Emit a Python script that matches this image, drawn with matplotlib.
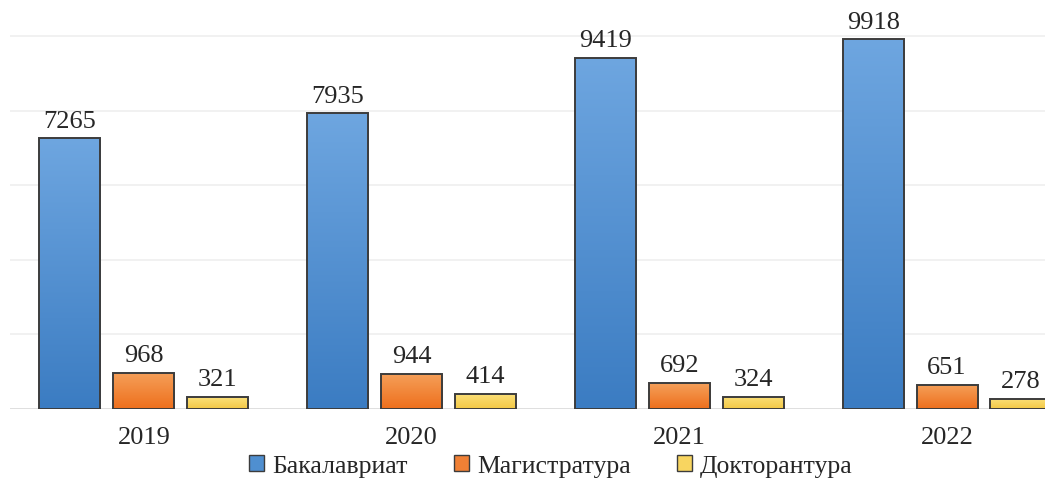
import matplotlib.pyplot as plt
import matplotlib.colors as mcolors
import numpy as np

years = ['2019', '2020', '2021', '2022']
series = ['Бакалавриат', 'Магистратура', 'Докторантура']
bachelor = [7265, 7935, 9419, 9918]
master = [968, 944, 692, 651]
doctor = [321, 414, 324, 278]

values = [bachelor, master, doctor]
# (top colour, bottom colour) for the vertical gradient of each series
grad = [('#6ea6e0', '#3b7cc2'), ('#f5a05a', '#ee6f1c'), ('#fbe07a', '#f3c845')]
legend_col = ['#4f8fd0', '#f08035', '#f8d560']

plt.rcParams['font.family'] = ['Liberation Serif', 'DejaVu Serif']

fig = plt.figure(figsize=(10.45, 4.85), dpi=100)
# axes runs off the right edge, as in the cropped original
ax = fig.add_axes([10/1045, 75/485, 1035/1045, 410/485])

width = 0.228
step = 0.276
x = np.arange(len(years))

ax.set_xlim(-0.5, (1045 - 143) / 268)
ax.set_ylim(0, 11000)

for yv in range(2000, 11000, 2000):
    ax.axhline(yv, color='#efefef', lw=1.2, zorder=0)
ax.axhline(0, color='#d9d9d9', lw=1.2, zorder=1)

gradient = np.linspace(0, 1, 256).reshape(-1, 1)
for i, vals in enumerate(values):
    cmap = mcolors.LinearSegmentedColormap.from_list('g%d' % i, [grad[i][1], grad[i][0]])
    offs = (i - 1) * step
    bars = ax.bar(x + offs, vals, width, facecolor='none', edgecolor='#3c3c3c',
                  linewidth=1.4, zorder=3)
    for b, v in zip(bars, vals):
        bx, bw = b.get_x(), b.get_width()
        im = ax.imshow(gradient, cmap=cmap, aspect='auto', origin='lower',
                       extent=[bx, bx + bw, 0, v], zorder=2)
        im.set_clip_path(b)
        ax.text(bx + bw / 2, v + 180, str(v), ha='center', va='bottom',
                fontsize=19, color='#262626')

ax.set_xticks(x)
ax.set_xticklabels(years, fontsize=19, color='#262626')
ax.tick_params(axis='x', length=0, pad=12)
ax.set_yticks([])
for s in ax.spines.values():
    s.set_visible(False)

handles = [plt.Rectangle((0, 0), 1, 1, fc=legend_col[i], ec='#3c3c3c', lw=1)
           for i in range(3)]
fig.legend(handles, series, loc='center', bbox_to_anchor=(551/1045, 1 - 467/485),
           ncol=3, frameon=False, fontsize=18.5, handlelength=0.6, handleheight=0.6,
           handletextpad=0.3, columnspacing=1.8, labelcolor='#262626')

fig.savefig('out.png', dpi=100)
